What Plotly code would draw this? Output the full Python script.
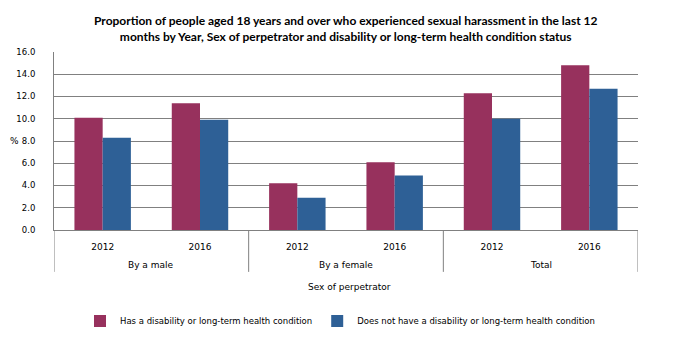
import plotly.graph_objects as go

group_names = ["By a male", "By a female", "Total"]
groups = ["By a male", "By a male", "By a female", "By a female", "Total", "Total"]
years = ["2012", "2016", "2012", "2016", "2012", "2016"]
has_disability = [10.1, 11.4, 4.2, 6.1, 12.3, 14.8]
no_disability = [8.3, 9.9, 2.9, 4.9, 10.0, 12.7]
y_ticks = [0, 2, 4, 6, 8, 10, 12, 14, 16]

FONT = "DejaVu Sans"
GRID = "#808080"
positions = list(range(len(years)))

fig = go.Figure()
fig.add_trace(go.Bar(x=positions, y=has_disability,
                     name="Has a disability or long-term health condition",
                     marker=dict(color="#97315D", line=dict(width=0))))
fig.add_trace(go.Bar(x=positions, y=no_disability,
                     name="Does not have a disability or long-term health condition",
                     marker=dict(color="#2E6096", line=dict(width=0))))

PLOT_H = 178.5
fig.update_layout(
    width=680, height=340,
    margin=dict(l=54, r=42, t=51.5, b=110, autoexpand=False),
    paper_bgcolor="white", plot_bgcolor="white",
    barmode="group", bargap=0.42, bargroupgap=0,
    font=dict(family=FONT, size=9, color="black"),
    legend=dict(orientation="h", x=0.5, xanchor="center", xref="container",
                y=19 / 340, yanchor="middle", yref="container",
                font=dict(family=FONT, size=8.5), itemwidth=30,
                traceorder="normal"),
    showlegend=True,
)

# Title
fig.add_annotation(
    text="<b>Proportion of people aged 18 years and over who experienced sexual harassment in the last 12<br>months by Year, Sex of perpetrator and disability or long-term health condition status</b>",
    xref="paper", yref="paper", x=0.5, y=1 + (51.5 - 28) / PLOT_H,
    xanchor="center", yanchor="middle", showarrow=False,
    font=dict(family="Lato", size=12, color="black"))

fig.update_yaxes(range=[0, 16], tickvals=y_ticks, tickformat=".1f",
                 showgrid=True, gridcolor=GRID, gridwidth=1,
                 showline=True, linecolor=GRID, linewidth=1,
                 zeroline=False, ticks="outside", ticklen=16, tickcolor="white",
                 tickfont=dict(family=FONT, size=8.5))
fig.update_xaxes(range=[-0.5, len(years) - 0.5], tickvals=positions, ticktext=years,
                 showgrid=False, zeroline=False,
                 showline=True, linecolor=GRID, linewidth=1,
                 ticks="outside", ticklen=8, tickcolor="white",
                 tickfont=dict(family=FONT, size=9))

# Group labels and dividers
for i, g in enumerate(group_names):
    fig.add_annotation(text=g, xref="x", yref="paper", x=2 * i + 0.5,
                       y=-(265 - 230) / PLOT_H, yanchor="middle", showarrow=False,
                       font=dict(family=FONT, size=9))
for b in [-0.5, 1.5, 3.5, 5.5]:
    fig.add_shape(type="line", xref="x", yref="paper", x0=b, x1=b,
                  y0=0, y1=-(272 - 230) / PLOT_H,
                  line=dict(color=GRID, width=1))

fig.add_annotation(text="%", xref="paper", yref="paper", x=-(54 - 14) / 584, y=0.5,
                   xanchor="center", showarrow=False, font=dict(family=FONT, size=9))
fig.add_annotation(text="Sex of perpetrator", xref="paper", yref="paper",
                   x=(349 - 54) / 584, y=-(287 - 230) / PLOT_H, yanchor="middle",
                   showarrow=False, font=dict(family=FONT, size=9))

fig.write_html("out.html", config={"displayModeBar": False},
               post_script="document.body.style.margin='0';document.body.style.padding='0';")
